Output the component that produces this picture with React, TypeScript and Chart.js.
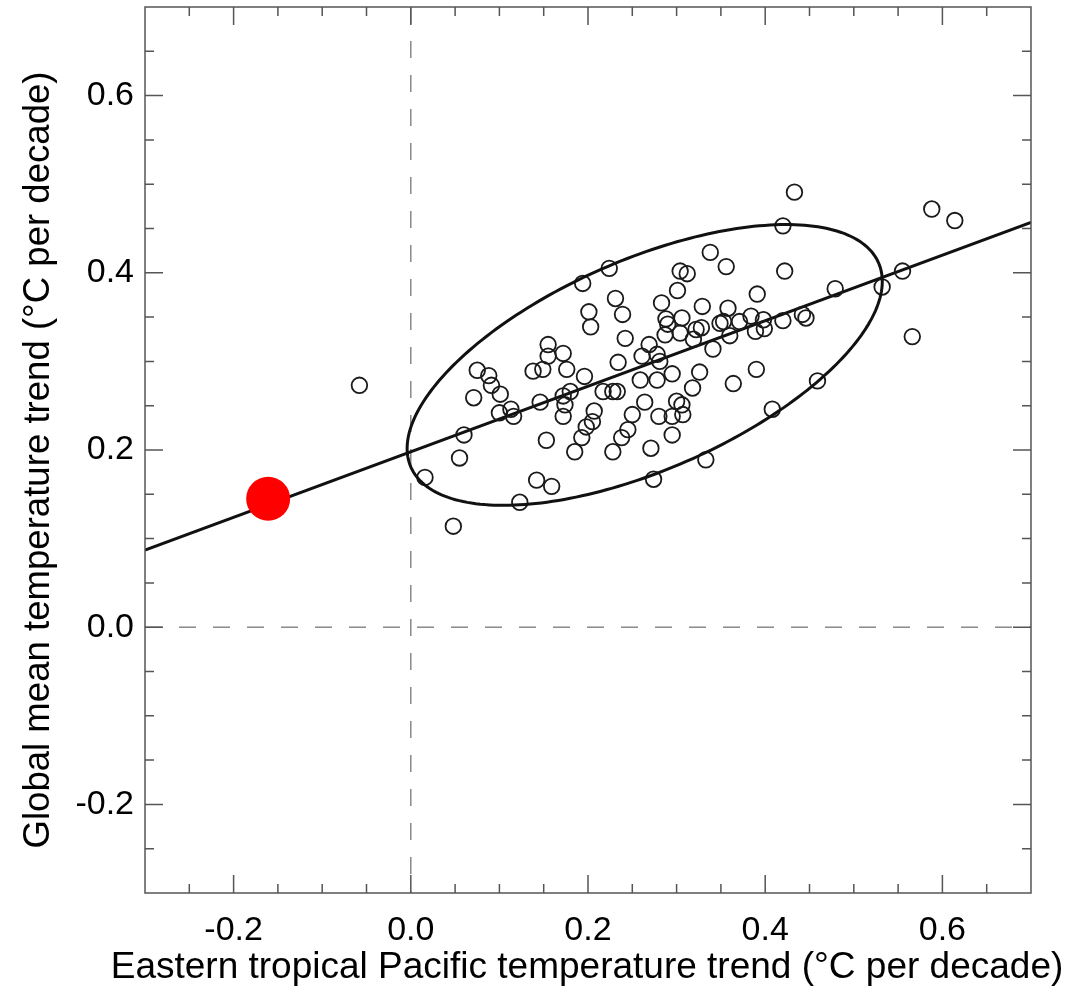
import React, { useEffect, useRef } from "react";
import { Chart, registerables } from "chart.js";
Chart.register(...registerables);

// Model trends (x: Eastern tropical Pacific, y: global mean), °C per decade
const modelX = [
  -0.058, 0.016, 0.048, 0.055, 0.060, 0.071, 0.075, 0.088, 0.091, 0.101,
  0.100, 0.113, 0.116, 0.123, 0.142, 0.159, 0.138, 0.149, 0.155, 0.155,
  0.172, 0.176, 0.146, 0.153, 0.172, 0.174, 0.180, 0.172, 0.196, 0.207,
  0.205, 0.198, 0.193, 0.185, 0.217, 0.228, 0.233, 0.234, 0.242, 0.231,
  0.239, 0.201, 0.203, 0.194, 0.224, 0.250, 0.245, 0.238, 0.228, 0.264,
  0.261, 0.259, 0.269, 0.278, 0.281, 0.278, 0.295, 0.271, 0.280, 0.295,
  0.300, 0.306, 0.307, 0.295, 0.274, 0.333, 0.326, 0.318, 0.364, 0.341,
  0.283, 0.288, 0.290, 0.306, 0.304, 0.287, 0.322, 0.328, 0.319, 0.301,
  0.304, 0.312, 0.338, 0.356, 0.329, 0.358, 0.349, 0.353, 0.371, 0.360,
  0.384, 0.391, 0.398, 0.389, 0.399, 0.420, 0.442, 0.446, 0.422, 0.420,
  0.433, 0.479, 0.532, 0.555, 0.588, 0.614, 0.566, 0.390, 0.459, 0.408,
];
const modelY = [
  0.273, 0.169, 0.114, 0.191, 0.217, 0.259, 0.290, 0.284, 0.273, 0.263,
  0.242, 0.246, 0.238, 0.141, 0.166, 0.159, 0.289, 0.291, 0.319, 0.306,
  0.309, 0.291, 0.254, 0.211, 0.261, 0.251, 0.266, 0.238, 0.283, 0.244,
  0.232, 0.226, 0.214, 0.198, 0.266, 0.266, 0.266, 0.299, 0.326, 0.371,
  0.353, 0.356, 0.339, 0.388, 0.405, 0.240, 0.223, 0.214, 0.198, 0.254,
  0.306, 0.279, 0.319, 0.308, 0.300, 0.279, 0.286, 0.202, 0.238, 0.238,
  0.255, 0.251, 0.240, 0.217, 0.167, 0.189, 0.288, 0.270, 0.275, 0.314,
  0.366, 0.348, 0.342, 0.349, 0.332, 0.330, 0.336, 0.338, 0.325, 0.380,
  0.402, 0.399, 0.423, 0.407, 0.362, 0.360, 0.343, 0.345, 0.345, 0.329,
  0.351, 0.376, 0.347, 0.334, 0.337, 0.346, 0.353, 0.349, 0.402, 0.453,
  0.491, 0.382, 0.384, 0.402, 0.472, 0.459, 0.328, 0.291, 0.278, 0.246,
];

// Observation (red dot)
const obsX = [-0.161];
const obsY = [0.145];

// Regression line end points
const fitX = [-0.3, 0.7];
const fitY = [0.087, 0.457];

// Confidence ellipse: centre, semi-axes (data units), tilt (degrees)
const ellipseCenter = [0.264, 0.296];
const ellipseAxes = [0.288, 0.1186];
const ellipseTiltDeg = [23.6];

// Axes
const axisMin = -0.3;
const axisMax = 0.7;
const xTickValues = [-0.2, 0.0, 0.2, 0.4, 0.6];
const xTickLabels = ["-0.2", "0.0", "0.2", "0.4", "0.6"];
const yTickValues = [-0.2, 0.0, 0.2, 0.4, 0.6];
const yTickLabels = ["-0.2", "0.0", "0.2", "0.4", "0.6"];
const xTitle = "Eastern tropical Pacific temperature trend (°C per decade)";
const yTitle = "Global mean temperature trend (°C per decade)";

const FONT = "'Liberation Sans', Arial, Helvetica, sans-serif";

function isMajor(v: number, values: number[]): boolean {
  return values.some((t) => Math.abs(t - v) < 1e-6);
}

export default function App() {
  const ref = useRef<HTMLCanvasElement>(null);

  useEffect(() => {
    const canvas = ref.current;
    if (!canvas) return;

    const decorations = {
      id: "decorations",
      beforeDatasetsDraw(chart: any) {
        const { ctx, chartArea: a, scales } = chart;
        const x0 = scales.x.getPixelForValue(0);
        const y0 = scales.y.getPixelForValue(0);
        ctx.save();
        ctx.strokeStyle = "#808080";
        ctx.lineWidth = 1.4;
        ctx.setLineDash([17, 17]);
        ctx.beginPath();
        ctx.moveTo(x0, a.top);
        ctx.lineTo(x0, a.bottom);
        ctx.stroke();
        ctx.beginPath();
        ctx.moveTo(a.left, y0);
        ctx.lineTo(a.right, y0);
        ctx.stroke();
        ctx.restore();
      },
      afterDatasetsDraw(chart: any) {
        const { ctx, chartArea: a, scales } = chart;
        const [cx, cy] = ellipseCenter;
        const [ra, rb] = ellipseAxes;
        const phi = (ellipseTiltDeg[0] * Math.PI) / 180;
        ctx.save();
        ctx.beginPath();
        ctx.rect(a.left, a.top, a.right - a.left, a.bottom - a.top);
        ctx.clip();
        ctx.strokeStyle = "#111";
        ctx.lineWidth = 3;
        ctx.beginPath();
        const n = 240;
        for (let i = 0; i <= n; i++) {
          const t = (i / n) * Math.PI * 2;
          const dx = ra * Math.cos(t) * Math.cos(phi) - rb * Math.sin(t) * Math.sin(phi);
          const dy = ra * Math.cos(t) * Math.sin(phi) + rb * Math.sin(t) * Math.cos(phi);
          const px = scales.x.getPixelForValue(cx + dx);
          const py = scales.y.getPixelForValue(cy + dy);
          if (i === 0) ctx.moveTo(px, py);
          else ctx.lineTo(px, py);
        }
        ctx.closePath();
        ctx.stroke();
        ctx.restore();
      },
      afterDraw(chart: any) {
        const { ctx, chartArea: a, scales } = chart;
        ctx.save();
        // frame + inward ticks on all four sides
        ctx.strokeStyle = "#555";
        ctx.lineWidth = 1.5;
        ctx.setLineDash([]);
        ctx.strokeRect(a.left, a.top, a.right - a.left, a.bottom - a.top);
        const steps = Math.round((axisMax - axisMin) / 0.05);
        ctx.beginPath();
        for (let i = 1; i < steps; i++) {
          const v = axisMin + i * 0.05;
          const len = isMajor(v, xTickValues) ? 18 : 9;
          const px = scales.x.getPixelForValue(v);
          ctx.moveTo(px, a.bottom);
          ctx.lineTo(px, a.bottom - len);
          ctx.moveTo(px, a.top);
          ctx.lineTo(px, a.top + len);
          const lenY = isMajor(v, yTickValues) ? 18 : 9;
          const py = scales.y.getPixelForValue(v);
          ctx.moveTo(a.left, py);
          ctx.lineTo(a.left + lenY, py);
          ctx.moveTo(a.right, py);
          ctx.lineTo(a.right - lenY, py);
        }
        ctx.stroke();

        // tick labels
        ctx.fillStyle = "#000";
        ctx.font = `34px ${FONT}`;
        ctx.textAlign = "center";
        ctx.textBaseline = "alphabetic";
        xTickValues.forEach((v, i) => {
          ctx.fillText(xTickLabels[i], scales.x.getPixelForValue(v), a.bottom + 47);
        });
        ctx.textAlign = "right";
        ctx.textBaseline = "middle";
        yTickValues.forEach((v, i) => {
          ctx.fillText(yTickLabels[i], a.left - 11, scales.y.getPixelForValue(v));
        });

        // axis titles
        ctx.font = `37px ${FONT}`;
        ctx.textAlign = "center";
        ctx.textBaseline = "alphabetic";
        ctx.fillText(xTitle, (a.left + a.right) / 2 - 1, a.bottom + 85);
        ctx.save();
        ctx.translate(39, (a.top + a.bottom) / 2 + 10);
        ctx.rotate(-Math.PI / 2);
        ctx.textBaseline = "middle";
        ctx.font = `36.6px ${FONT}`;
        ctx.fillText(yTitle, 0, 0);
        ctx.restore();
        ctx.restore();
      },
    };

    const chart = new Chart(canvas, {
      type: "scatter",
      data: {
        datasets: [
          {
            type: "scatter",
            label: "Observed",
            data: obsX.map((x, i) => ({ x, y: obsY[i] })),
            pointRadius: 22,
            pointHoverRadius: 22,
            backgroundColor: "#ff0000",
            borderColor: "#ff0000",
            borderWidth: 0,
            order: 1,
          },
          {
            type: "scatter",
            label: "Models",
            data: modelX.map((x, i) => ({ x, y: modelY[i] })),
            pointRadius: 7.8,
            pointHoverRadius: 7.8,
            backgroundColor: "rgba(0,0,0,0)",
            borderColor: "#1a1a1a",
            borderWidth: 1.8,
            order: 2,
          },
          {
            type: "line",
            label: "Fit",
            data: fitX.map((x, i) => ({ x, y: fitY[i] })),
            borderColor: "#111",
            borderWidth: 3,
            pointRadius: 0,
            fill: false,
            showLine: true,
            order: 3,
          } as any,
        ],
      },
      options: {
        responsive: false,
        animation: false,
        devicePixelRatio: 1,
        layout: { autoPadding: false, padding: { top: 7, right: 39, left: 145, bottom: 97 } },
        plugins: {
          legend: { display: false },
          tooltip: { enabled: false },
        },
        scales: {
          x: { type: "linear", min: axisMin, max: axisMax, display: false },
          y: { type: "linear", min: axisMin, max: axisMax, display: false },
        },
      },
      plugins: [decorations],
    } as any);

    return () => chart.destroy();
  }, []);

  return (
    <div style={{ position: "absolute", left: 0, top: 0, width: 1070, height: 990, background: "#fff" }}>
      <canvas ref={ref} width={1070} height={990} style={{ width: 1070, height: 990, display: "block" }} />
    </div>
  );
}
